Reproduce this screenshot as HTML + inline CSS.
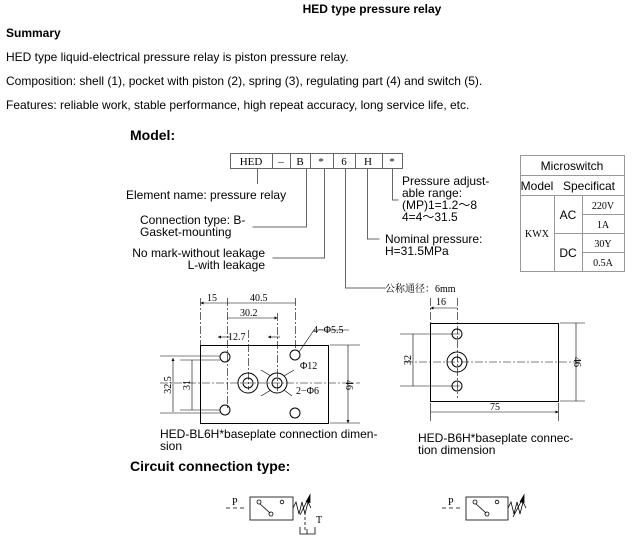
<!DOCTYPE html><html><head><style>body{margin:0;background:#fff}svg{display:block}text{font-family:"Liberation Sans","Noto Sans CJK SC",sans-serif;fill:#000}.s text,text.s{font-family:"Liberation Serif","Noto Serif CJK SC",serif}</style></head><body>
<svg width="632" height="541" viewBox="0 0 632 541" xmlns="http://www.w3.org/2000/svg">
<defs><marker id="a" viewBox="0 0 10 10" refX="10" refY="5" markerWidth="7" markerHeight="5" orient="auto-start-reverse"><path d="M0,0L10,5L0,10z"/></marker></defs>
<g font-size="12">
<text x="372" y="13" text-anchor="middle" font-weight="bold">HED type pressure relay</text>
<text x="6" y="37" font-weight="bold">Summary</text>
<text x="6" y="61">HED type liquid-electrical pressure relay is piston pressure relay.</text>
<text x="6" y="85">Composition: shell (1), pocket with piston (2), spring (3), regulating part (4) and switch (5).</text>
<text x="6" y="109">Features: reliable work, stable performance, high repeat accuracy, long service life, etc.</text>
</g>
<text x="130" y="140" font-size="14" font-weight="bold">Model:</text>
<g fill="none" stroke="#666" stroke-width="1">
<rect x="230.5" y="153.5" width="172" height="15"/>
<path d="M272.5 153v15M290.5 153v15M310.5 153v15M333.5 153v15M355.5 153v15M382.5 153v15"/>
<path d="M257.5 168v16M306.5 168v59h-54M324.5 168v90h-52M345.5 168v120h40M367.5 168v71h12M392.5 168v32h6"/>
</g>
<g class="s" font-size="11" text-anchor="middle"><text x="251" y="165">HED</text><text x="281" y="165">–</text><text x="300" y="165">B</text><text x="321" y="165">*</text><text x="344" y="165">6</text><text x="368" y="165">H</text><text x="392" y="165">*</text></g>
<g font-size="12">
<text x="126" y="199">Element name: pressure relay</text>
<text x="140" y="224">Connection type: B-</text><text x="140" y="236">Gasket-mounting</text>
<text x="265" y="257" text-anchor="end">No mark-without leakage</text><text x="265" y="269" text-anchor="end">L-with leakage</text>
<text x="402" y="185">Pressure adjust-</text><text x="402" y="197">able range:</text><text x="402" y="209">(MP)1=1.2～8</text><text x="402" y="221">4=4～31.5</text>
<text x="385" y="243">Nominal pressure:</text><text x="385" y="255">H=31.5MPa</text>
</g>
<text x="385" y="292" font-size="10" class="s">公称通径：6mm</text>
<g fill="none" stroke="#999"><rect x="520.5" y="155.5" width="104" height="116"/><path d="M520 175.5h105M520 195.5h105M554.5 195v77M582.5 195v77M582 214.5h43M554 233.5h71M582 252.5h43"/></g>
<g font-size="12" text-anchor="middle"><text x="572" y="170">Microswitch</text><text x="537" y="190">Model</text><text x="589" y="190">Specificat</text><text x="568" y="219">AC</text><text x="568" y="257">DC</text></g>
<g class="s" font-size="10" text-anchor="middle"><text x="537" y="237">KWX</text><text x="603" y="209">220V</text><text x="603" y="228">1A</text><text x="603" y="247">30Y</text><text x="603" y="266">0.5A</text></g>
<g fill="none" stroke="#000" stroke-width="1">
<rect x="200.5" y="345.5" width="128" height="78"/>
<circle cx="225" cy="357" r="5"/><circle cx="295" cy="355" r="5"/><circle cx="225" cy="410" r="5"/><circle cx="295" cy="413" r="5"/>
<circle cx="248" cy="383" r="10"/><circle cx="248" cy="383" r="5"/><circle cx="277" cy="383" r="10"/><circle cx="277" cy="383" r="5"/>
</g>
<g fill="none" stroke="#000" stroke-width="0.6">
<path d="M200.5 298v47M227.5 298v110M295.5 298v52M277.5 313v80M248.5 330v60M160 383h200" stroke-dasharray="8 2 2 2"/>
<path d="M200.5 303h27M227.5 303h68M227.5 318h50" marker-start="url(#a)" marker-end="url(#a)"/>
<path d="M218 337h12" marker-start="url(#a)"/><path d="M268 337h12" marker-start="url(#a)"/>
<path d="M160 356h60M180 360h40M180 410h40M160 413h60M330 345h30M330 423h30"/>
<path d="M173 358v54M192 360v50M348 345v78" marker-start="url(#a)" marker-end="url(#a)"/>
<path d="M299 352l15-22h35M271 376l-10-6M284 376l10-6M284 390l8 6M271 390l-10 6"/>
</g>
<g class="s" font-size="10"><text x="207" y="301">15</text><text x="250" y="301">40.5</text><text x="240" y="316">30.2</text><text x="228" y="340">12.7</text><text x="313" y="333">4−Φ5.5</text><text x="300" y="369">Φ12</text><text x="296" y="394">2−Φ6</text>
<text transform="translate(171 385) rotate(-90)" text-anchor="middle">32.5</text><text transform="translate(190 385) rotate(-90)" text-anchor="middle">31</text><text transform="translate(346 385) rotate(90)" text-anchor="middle">46</text></g>
<text x="160" y="438" font-size="12">HED-BL6H*baseplate connection dimen-</text><text x="160" y="450" font-size="12">sion</text>
<g fill="none" stroke="#000" stroke-width="1"><rect x="430.5" y="323.5" width="128" height="78"/><circle cx="457" cy="334" r="5"/><circle cx="457" cy="386" r="5"/><circle cx="457" cy="362" r="10"/><circle cx="457" cy="362" r="5"/></g>
<g fill="none" stroke="#000" stroke-width="0.6">
<path d="M430.5 298v25M457.5 298v100M405 362h175" stroke-dasharray="8 2 2 2"/>
<path d="M400 334h60M400 386h60M560 323h25M560 401h25M430.5 403v18M558.5 403v18"/>
<path d="M430.5 308h27M413 334v52M576 323v78M430.5 412h128" marker-start="url(#a)" marker-end="url(#a)"/></g>
<g class="s" font-size="10"><text x="436" y="305">16</text><text x="490" y="410">75</text><text transform="translate(411 360) rotate(-90)" text-anchor="middle">32</text><text transform="translate(574 362) rotate(90)" text-anchor="middle">46</text></g>
<text x="418" y="442" font-size="12">HED-B6H*baseplate connec-</text><text x="418" y="454" font-size="12">tion dimension</text>
<text x="130" y="471" font-size="14" font-weight="bold">Circuit connection type:</text>
<g fill="none" stroke="#000" stroke-width="0.8">
<path d="M226 508h20" stroke-dasharray="4 3"/><rect x="250" y="497" width="43" height="23"/><circle cx="259" cy="502" r="2"/><circle cx="271" cy="514" r="2"/><path d="M260 504l10 9"/><circle cx="282" cy="502" r="1.8"/>
<path d="M293 508l3-6 3 12 3-12 3 12 3-12 3 6M300 515l10-20"/><path d="M306 502l4-7 0 8" fill="#000"/>
<path d="M305 512v20" stroke-dasharray="3 2"/><path d="M300 527v7h15v-7M307 534v-5"/>
<path d="M442 508h20" stroke-dasharray="4 3"/><rect x="466" y="497" width="42" height="23"/><circle cx="475" cy="502" r="2"/><circle cx="487" cy="514" r="2"/><path d="M476 504l10 9"/><circle cx="497" cy="502" r="1.8"/>
<path d="M508 508l3-6 3 12 3-12 3 12 3-12 3 6M513 517l11-21"/><path d="M520 502l4-7 0 8" fill="#000"/>
</g>
<g class="s" font-size="10"><text x="232" y="505">P</text><text x="316" y="523">T</text><text x="448" y="505">P</text></g>
</svg></body></html>
